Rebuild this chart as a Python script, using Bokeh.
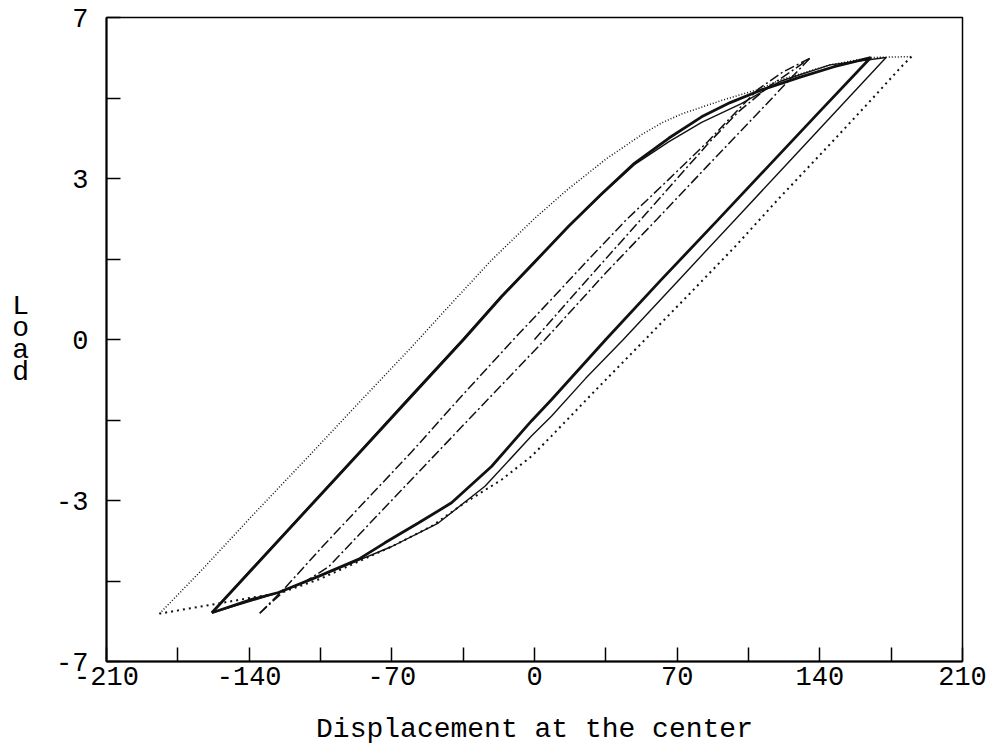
from bokeh.plotting import figure
from bokeh.models import FixedTicker, PrintfTickFormatter
from bokeh.embed import file_html
from bokeh.resources import INLINE

FONT = "Liberation Mono"

# axis ticks
x_major = [-210, -140, -70, 0, 70, 140, 210]
x_minor = [-175, -105, -35, 35, 105, 175]
y_major = [-7, -3.5, 0, 3.5, 7]
y_minor = [-5.25, -1.75, 1.75, 5.25]

# outer loop, upper branch (fine dotted)
dotA_up_x = [-184, -163, -138.7, -110, -84.8, -60, -40, -21, 0, 16.5, 35, 52.5, 62, 72, 82, 92, 110, 121, 145, 165, 185]
dotA_up_y = [-5.96, -5.0, -3.84, -2.5, -1.31, -0.15, 0.82, 1.73, 2.63, 3.27, 3.92, 4.45, 4.7, 4.9, 5.05, 5.2, 5.44, 5.65, 5.97, 6.13, 6.15]
# outer loop, lower branch (coarse dotted)
dotA_lo_x = [185, 180, 165, 147, 120, 98, 76, 54.3, 30, 8.3, -1.5, -16.2, -34.2, -50.5, -70, -90, -105, -124, -184]
dotA_lo_y = [6.15, 5.93, 5.2, 4.34, 3.07, 2.0, 0.99, 0.0, -1.1, -2.1, -2.54, -3.05, -3.55, -4.06, -4.5, -4.9, -5.2, -5.5, -5.96]

# thick solid loop
solA_up_x = [-158.3, -138.7, -110, -85, -62, -34.8, -16.2, 0, 16.5, 33, 49, 66, 82, 96, 111, 130, 147, 165]
solA_up_y = [-5.94, -5.0, -3.62, -2.42, -1.31, 0.0, 0.93, 1.68, 2.45, 3.17, 3.83, 4.38, 4.84, 5.15, 5.42, 5.7, 5.93, 6.13]
solA_lo_x = [165, 140, 115, 90, 62, 35, 8.3, -1.5, -21.1, -40.7, -57, -73.4, -86.4, -106, -125.6, -138.7, -158.3]
solA_lo_y = [6.13, 4.96, 3.78, 2.6, 1.29, 0.0, -1.31, -1.77, -2.76, -3.55, -3.99, -4.42, -4.78, -5.15, -5.5, -5.65, -5.94]

# thin solid loop
solB_up_x = [-158.3, -138.7, -110, -85, -62, -34.8, -16.2, 0, 16.5, 33, 49, 66, 82, 101.5, 121, 145, 172.5]
solB_up_y = [-5.94, -4.98, -3.6, -2.4, -1.28, 0.02, 0.95, 1.7, 2.45, 3.15, 3.8, 4.3, 4.72, 5.13, 5.62, 5.97, 6.13]
solB_lo_x = [172.5, 150, 125, 100, 72, 43.6, 25, 8.3, -1.5, -24.3, -47.2, -70, -89.7, -106, -125.6, -140, -158.3]
solB_lo_y = [6.13, 5.06, 3.87, 2.68, 1.35, 0.0, -0.85, -1.67, -2.1, -3.19, -3.99, -4.5, -4.86, -5.15, -5.5, -5.7, -5.94]

# dash-dot: initial loading from the origin
dd_init_x = [0, 17, 34.5, 52, 69.4, 85, 100, 115, 125, 135]
dd_init_y = [0, 0.86, 1.73, 2.6, 3.47, 4.25, 4.95, 5.5, 5.8, 6.11]
# dash-dot loop
dd_up_x = [-134.8, -122.4, -104, -80, -60, -37.4, -10.3, 8, 26.3, 45, 65.6, 85, 100, 110, 122, 135]
dd_up_y = [-5.95, -5.4, -4.5, -3.37, -2.43, -1.31, 0.0, 0.86, 1.73, 2.6, 3.47, 4.3, 5.0, 5.45, 5.82, 6.11]
dd_lo_x = [135, 110, 85, 60, 35, 5.2, -21.1, -45, -65, -86, -101, -112, -122.4, -134.8]
dd_lo_y = [6.11, 4.94, 3.78, 2.61, 1.45, 0.0, -1.22, -2.33, -3.26, -4.24, -4.94, -5.25, -5.45, -5.95]

p = figure(width=998, height=747, x_range=(-210, 210), y_range=(-7, 7),
           output_backend="svg", toolbar_location=None,
           min_border_left=106, min_border_right=36, min_border_top=17, min_border_bottom=85)
p.xgrid.grid_line_color = None
p.ygrid.grid_line_color = None
p.outline_line_color = "black"
p.outline_line_width = 1.5
p.background_fill_color = "white"
p.border_fill_color = "white"

ink = "#111111"
p.line(dotA_up_x, dotA_up_y, line_color=ink, line_width=1.5, line_dash="1 2")
p.line(dotA_lo_x, dotA_lo_y, line_color=ink, line_width=2.0, line_dash="2 4")
p.line(solA_up_x, solA_up_y, line_color=ink, line_width=2.8)
p.line(solA_lo_x, solA_lo_y, line_color=ink, line_width=2.8)
p.line(solB_up_x, solB_up_y, line_color=ink, line_width=1.4)
p.line(solB_lo_x, solB_lo_y, line_color=ink, line_width=1.4)
p.line(dd_init_x, dd_init_y, line_color=ink, line_width=1.5, line_dash="10 3 2 3")
p.line(dd_up_x, dd_up_y, line_color=ink, line_width=1.5, line_dash="10 3 2 3")
p.line(dd_lo_x, dd_lo_y, line_color=ink, line_width=1.5, line_dash="10 3 2 3")

for ax in (p.xaxis[0], p.yaxis[0]):
    ax.axis_line_color = "black"
    ax.axis_line_width = 2
    ax.major_tick_line_color = "black"
    ax.minor_tick_line_color = "black"
    ax.major_tick_line_width = 1.5
    ax.minor_tick_line_width = 1.5
    ax.major_tick_in = 14
    ax.major_tick_out = 0
    ax.minor_tick_in = 14
    ax.minor_tick_out = 0
    ax.major_label_text_font = FONT
    ax.major_label_text_font_size = "27px"
    ax.major_label_text_color = "black"
    ax.axis_label_text_font = FONT
    ax.axis_label_text_font_size = "28px"
    ax.axis_label_text_font_style = "normal"
    ax.axis_label_text_color = "black"

p.xaxis.ticker = FixedTicker(ticks=x_major, minor_ticks=x_minor)
p.yaxis.ticker = FixedTicker(ticks=y_major, minor_ticks=y_minor)
p.yaxis.formatter = PrintfTickFormatter(format="%d")
p.xaxis.formatter = PrintfTickFormatter(format="%d")
p.xaxis.major_label_standoff = 5
p.yaxis.major_label_standoff = 18

p.xaxis.axis_label = "Displacement at the center"
p.xaxis.axis_label_standoff = 26
p.yaxis.axis_label = "L\no\na\nd"
p.yaxis.axis_label_orientation = "horizontal"
p.yaxis.axis_label_text_line_height = 0.7
p.yaxis.axis_label_standoff = 24

open("out.html", "w").write(file_html(p, INLINE))
